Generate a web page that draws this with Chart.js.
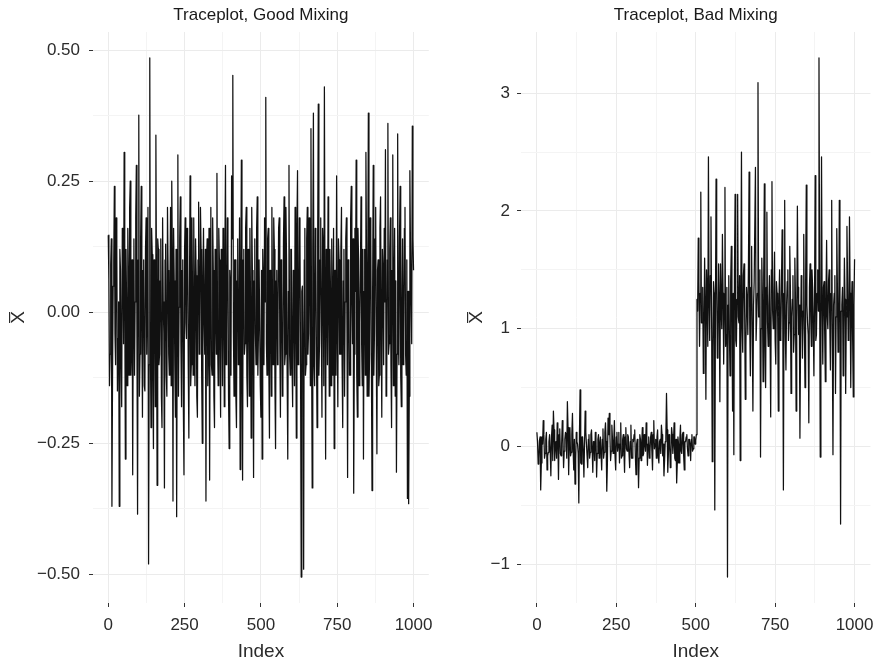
<!DOCTYPE html>
<html>
<head>
<meta charset="utf-8">
<script src="https://cdn.jsdelivr.net/npm/chart.js@4/dist/chart.umd.min.js"></script>
<style>
  body { margin: 0; background: #fff; }
  .panel { position: absolute; top: 0; }
</style>
</head>
<body>
<canvas id="good" class="panel" width="441" height="663" style="left:0"></canvas>
<canvas id="bad" class="panel" width="441" height="663" style="left:441px"></canvas>
<script>
// sample index, every 4th draw of the chain
const iterIndex = [
  0, 4, 8, 12, 16, 20, 24, 28, 32, 36, 40, 44, 48, 52, 56, 60, 64, 68, 72, 76,
  80, 84, 88, 92, 96, 100, 104, 108, 112, 116, 120, 124, 128, 132, 136, 140, 144, 148, 152, 156,
  160, 164, 168, 172, 176, 180, 184, 188, 192, 196, 200, 204, 208, 212, 216, 220, 224, 228, 232, 236,
  240, 244, 248, 252, 256, 260, 264, 268, 272, 276, 280, 284, 288, 292, 296, 300, 304, 308, 312, 316,
  320, 324, 328, 332, 336, 340, 344, 348, 352, 356, 360, 364, 368, 372, 376, 380, 384, 388, 392, 396,
  400, 404, 408, 412, 416, 420, 424, 428, 432, 436, 440, 444, 448, 452, 456, 460, 464, 468, 472, 476,
  480, 484, 488, 492, 496, 500, 504, 508, 512, 516, 520, 524, 528, 532, 536, 540, 544, 548, 552, 556,
  560, 564, 568, 572, 576, 580, 584, 588, 592, 596, 600, 604, 608, 612, 616, 620, 624, 628, 632, 636,
  640, 644, 648, 652, 656, 660, 664, 668, 672, 676, 680, 684, 688, 692, 696, 700, 704, 708, 712, 716,
  720, 724, 728, 732, 736, 740, 744, 748, 752, 756, 760, 764, 768, 772, 776, 780, 784, 788, 792, 796,
  800, 804, 808, 812, 816, 820, 824, 828, 832, 836, 840, 844, 848, 852, 856, 860, 864, 868, 872, 876,
  880, 884, 888, 892, 896, 900, 904, 908, 912, 916, 920, 924, 928, 932, 936, 940, 944, 948, 952, 956,
  960, 964, 968, 972, 976, 980, 984, 988, 992, 996, 1000
];
// the draws in between
const iterIndexMid = [
  2, 6, 10, 14, 18, 22, 26, 30, 34, 38, 42, 46, 50, 54, 58, 62, 66, 70, 74, 78,
  82, 86, 90, 94, 98, 102, 106, 110, 114, 118, 122, 126, 130, 134, 138, 142, 146, 150, 154, 158,
  162, 166, 170, 174, 178, 182, 186, 190, 194, 198, 202, 206, 210, 214, 218, 222, 226, 230, 234, 238,
  242, 246, 250, 254, 258, 262, 266, 270, 274, 278, 282, 286, 290, 294, 298, 302, 306, 310, 314, 318,
  322, 326, 330, 334, 338, 342, 346, 350, 354, 358, 362, 366, 370, 374, 378, 382, 386, 390, 394, 398,
  402, 406, 410, 414, 418, 422, 426, 430, 434, 438, 442, 446, 450, 454, 458, 462, 466, 470, 474, 478,
  482, 486, 490, 494, 498, 502, 506, 510, 514, 518, 522, 526, 530, 534, 538, 542, 546, 550, 554, 558,
  562, 566, 570, 574, 578, 582, 586, 590, 594, 598, 602, 606, 610, 614, 618, 622, 626, 630, 634, 638,
  642, 646, 650, 654, 658, 662, 666, 670, 674, 678, 682, 686, 690, 694, 698, 702, 706, 710, 714, 718,
  722, 726, 730, 734, 738, 742, 746, 750, 754, 758, 762, 766, 770, 774, 778, 782, 786, 790, 794, 798,
  802, 806, 810, 814, 818, 822, 826, 830, 834, 838, 842, 846, 850, 854, 858, 862, 866, 870, 874, 878,
  882, 886, 890, 894, 898, 902, 906, 910, 914, 918, 922, 926, 930, 934, 938, 942, 946, 950, 954, 958,
  962, 966, 970, 974, 978, 982, 986, 990, 994, 998
];

// good mixing chain
const goodMixing = [
  0.147, -0.14, 0.09, -0.37, 0.05, 0.24, -0.10, 0.12, -0.05, -0.37,
  0.08, -0.18, 0.12, 0.305, -0.28, 0.02, 0.16, -0.12, 0.25, -0.06,
  -0.31, 0.14, 0.02, 0.28, -0.385, 0.376, -0.08, 0.24, -0.20, 0.10,
  -0.15, 0.18, 0.04, -0.48, 0.485, -0.22, 0.11, -0.26, 0.06, 0.338,
  -0.33, 0.12, -0.08, 0.14, -0.22, 0.02, -0.335, 0.13, -0.16, 0.08,
  -0.12, 0.20, 0.25, -0.36, 0.06, -0.20, -0.39, 0.30, 0.01, 0.22,
  -0.18, 0.10, -0.31, 0.18, -0.05, 0.15, -0.24, 0.26, -0.10, 0.04,
  0.18, -0.14, 0.07, -0.20, 0.21, -0.02, 0.12, -0.25, 0.16, -0.08,
  -0.36, 0.14, -0.06, -0.32, 0.20, -0.12, 0.08, -0.22, 0.02, 0.265,
  -0.14, 0.10, -0.20, 0.06, 0.16, -0.18, 0.28, -0.04, 0.12, -0.26,
  0.05, 0.26, 0.452, -0.16, 0.10, -0.22, 0.14, -0.08, -0.30, 0.29,
  -0.32, 0.12, -0.06, 0.20, -0.18, 0.04, 0.16, -0.24, 0.08, -0.315,
  0.14, -0.10, 0.22, -0.04, 0.10, -0.20, -0.28, 0.06, 0.18, 0.41,
  -0.12, 0.16, -0.24, 0.04, 0.20, -0.10, 0.12, -0.26, 0.08, -0.02,
  0.18, -0.20, 0.06, -0.14, 0.22, -0.08, 0.10, -0.28, 0.28, -0.12,
  0.12, -0.18, 0.04, 0.20, -0.24, 0.27, -0.06, 0.14, -0.505, 0.05,
  -0.49, 0.16, -0.10, 0.20, -0.04, 0.08, 0.35, -0.335, 0.38, -0.14,
  0.10, -0.22, 0.397, -0.06, 0.18, -0.20, 0.12, 0.43, -0.28, 0.06,
  0.22, -0.16, 0.04, 0.14, -0.12, -0.26, 0.08, 0.26, -0.18, 0.10,
  -0.08, 0.20, -0.22, 0.12, 0.02, 0.18, -0.315, 0.08, -0.12, 0.24,
  -0.06, -0.345, 0.16, 0.29, -0.20, 0.10, -0.02, 0.22, -0.14, -0.28,
  0.12, 0.305, -0.16, 0.38, -0.08, 0.14, -0.34, 0.28, -0.04, 0.20,
  -0.27, 0.10, -0.12, 0.22, -0.20, 0.08, 0.16, 0.31, -0.14, 0.36,
  -0.06, 0.18, -0.22, 0.30, 0.04, -0.16, -0.305, 0.34, -0.10, 0.24,
  -0.18, 0.14, -0.04, 0.20, -0.12, -0.355, -0.365, 0.27, 0.02, 0.355,
  0.08
];
const goodMixingMid = [
  0.06, -0.08, 0.14, -0.12, 0.10, -0.04, 0.18, -0.15, 0.02, 0.12,
  -0.10, 0.16, -0.06, 0.04, 0.12, -0.14, 0.08, 0.20, -0.12, 0.10,
  0.02, -0.12, 0.18, -0.06, 0.10, -0.16, 0.14, -0.02, 0.08, -0.14,
  0.12, -0.08, 0.20, -0.10, -0.06, 0.16, -0.12, 0.10, -0.18, 0.04,
  0.14, -0.10, 0.06, -0.16, 0.18, -0.04, 0.10, -0.12, 0.20, -0.08,
  0.04, -0.14, 0.10, 0.16, -0.10, 0.12, 0.02, -0.16, 0.14, -0.06,
  0.08, -0.18, 0.12, -0.02, 0.16, -0.10, 0.04, -0.14, 0.18, -0.12,
  0.02, 0.14, -0.16, 0.10, -0.08, 0.20, -0.12, 0.06, -0.02, 0.12,
  0.10, -0.14, 0.16, 0.04, -0.10, 0.18, -0.16, 0.12, -0.08, -0.04,
  0.16, -0.06, 0.12, -0.14, 0.02, 0.10, -0.10, 0.18, -0.16, 0.08,
  -0.12, 0.14, -0.04, 0.10, -0.16, 0.06, -0.10, 0.18, 0.04, -0.14,
  0.10, -0.08, 0.16, -0.12, 0.12, -0.16, 0.02, 0.20, -0.10, 0.06,
  -0.04, 0.16, -0.12, 0.10, -0.14, 0.08, 0.12, -0.10, 0.02, -0.06,
  0.14, -0.10, 0.08, -0.16, 0.02, 0.18, -0.14, 0.06, -0.10, 0.16,
  -0.06, 0.10, -0.16, 0.14, -0.10, 0.20, -0.12, 0.04, -0.08, 0.12,
  -0.10, 0.08, -0.14, 0.02, 0.16, -0.10, 0.18, -0.12, 0.04, -0.08,
  0.10, -0.12, 0.14, -0.08, 0.18, -0.14, -0.06, 0.12, -0.10, 0.16,
  -0.08, 0.14, -0.12, 0.10, -0.04, 0.16, -0.14, 0.02, 0.12, -0.10,
  0.04, 0.12, -0.14, 0.02, 0.16, 0.08, -0.12, -0.02, 0.14, -0.08,
  0.12, -0.10, 0.06, -0.16, 0.14, -0.04, 0.10, -0.12, 0.18, 0.02,
  0.14, -0.08, 0.04, -0.12, 0.16, -0.14, 0.08, -0.06, 0.12, 0.04,
  -0.12, 0.10, 0.06, -0.16, 0.18, -0.10, 0.04, -0.12, 0.14, -0.06,
  0.08, -0.14, 0.16, -0.04, 0.12, -0.10, 0.02, -0.16, 0.10, -0.08,
  0.12, -0.10, 0.08, -0.14, 0.16, 0.06, -0.08, -0.04, 0.14, -0.12,
  0.02, -0.10, 0.16, -0.08, 0.10, 0.04, -0.16, 0.12, -0.06, 0.14
];

// bad mixing chain (jumps near 500)
const badMixing = [
  0.12, -0.15, 0.05, -0.37, 0.08, 0.22, -0.10, 0.06, -0.20, -0.05,
  0.10, -0.25, 0.18, 0.30, -0.12, 0.04, 0.20, -0.28, 0.15, -0.08,
  0.22, -0.18, 0.06, 0.10, 0.38, -0.24, 0.16, -0.05, 0.28, -0.20,
  -0.32, 0.12, 0.02, -0.48, 0.48, -0.15, 0.08, -0.26, 0.30, 0.02,
  -0.18, 0.10, -0.05, 0.14, -0.22, 0.04, 0.12, -0.26, 0.06, -0.10,
  0.08, -0.20, 0.15, -0.05, 0.20, -0.38, 0.24, 0.28, -0.12, 0.18,
  -0.06, 0.22, -0.20, 0.12, 0.02, -0.14, 0.20, -0.08, 0.10, -0.22,
  0.16, -0.04, 0.08, -0.18, 0.18, -0.10, 0.04, 0.14, -0.24, 0.06,
  -0.35, 0.10, -0.12, 0.16, -0.06, 0.02, 0.20, -0.16, 0.08, -0.04,
  0.12, -0.20, 0.22, 0.02, -0.10, 0.14, -0.14, 0.06, 0.18, -0.08,
  -0.25, 0.04, 0.45, -0.22, 0.10, -0.18, 0.16, -0.06, 0.20, -0.12,
  -0.31, 0.08, -0.14, 0.18, -0.06, 0.12, -0.20, 0.04, 0.10, -0.08,
  0.06, -0.12, 0.10, -0.02, 0.08, 0.05, 1.25, 1.77, 0.85, 2.16,
  1.05, 0.62, 1.60, 0.40, 1.30, 2.46, 0.90, 1.95, -0.13, 1.40,
  -0.54, 2.27, 0.75, 1.55, 0.38, 1.20, 1.80, 0.70, 2.20, 0.95,
  -1.11, 1.45, 0.60, 1.70, 0.30, -0.07, 2.14, 0.85, 2.14, 1.05,
  -0.12, 2.50, 0.80, 1.55, 0.40, 1.35, 0.95, 2.33, 0.60, 1.70,
  0.30, 1.40, 2.37, 0.90, 3.09, 1.10, -0.09, 1.60, 0.55, 2.23,
  0.50, 1.99, 0.85, 1.45, 0.25, 2.25, 1.00, 1.65, 0.70, 1.30,
  0.30, 1.50, 0.95, 1.84, -0.37, 2.09, 0.65, 1.40, 0.90, 1.70,
  0.45, 1.25, 0.80, 1.60, 0.30, 2.04, 0.95, 0.07, 1.45, 0.75,
  1.80, 0.50, 2.22, 1.05, 0.20, 1.55, 0.85, 1.35, 0.60, 2.30,
  0.95, 1.50, 3.30, -0.09, 2.46, 0.70, 1.40, 0.55, 1.75, 1.00,
  1.50, 0.65, 2.09, -0.07, 1.30, 0.45, 1.85, 0.80, 2.09, -0.66,
  1.20, 0.60, 1.60, 0.45, 1.87, 0.90, 1.95, 0.50, 1.40, 0.42,
  1.59
];
const badMixingMid = [
  0.04, -0.10, 0.08, -0.14, 0.02, 0.10, -0.06, 0.12, -0.08, 0.04,
  -0.04, 0.08, -0.12, 0.14, 0.02, -0.10, 0.06, 0.10, -0.06, 0.02,
  0.08, -0.04, 0.12, -0.10, 0.16, 0.02, -0.08, 0.10, -0.02, 0.06,
  -0.12, 0.04, -0.06, 0.10, -0.14, 0.08, -0.04, 0.02, 0.12, -0.08,
  0.06, -0.10, 0.10, -0.02, 0.04, -0.12, 0.08, -0.06, 0.10, 0.02,
  -0.06, 0.06, -0.10, 0.12, 0.04, -0.14, 0.10, 0.08, -0.04, 0.06,
  0.04, -0.08, 0.08, -0.04, 0.12, 0.02, -0.10, 0.06, -0.04, 0.08,
  -0.02, 0.10, -0.06, 0.04, -0.10, 0.06, 0.10, -0.08, 0.02, -0.04,
  -0.10, 0.06, 0.02, -0.08, 0.10, -0.04, 0.06, 0.02, -0.10, 0.08,
  -0.04, 0.10, -0.02, 0.06, 0.08, -0.08, 0.04, -0.06, 0.10, 0.02,
  -0.12, 0.08, 0.14, -0.06, 0.02, -0.08, 0.10, 0.04, -0.10, 0.06,
  -0.14, 0.02, 0.06, -0.04, 0.10, -0.08, 0.04, 0.08, -0.02, 0.06,
  0.02, 0.06, -0.04, 0.08, 0.02, 0.10, 1.15, 1.40, 1.30, 1.05,
  1.35, 0.95, 1.20, 1.50, 0.85, 1.25, 1.45, 1.10, 0.80, 1.30,
  1.10, 1.40, 0.90, 1.25, 1.55, 1.00, 1.30, 1.15, 0.85, 1.35,
  1.20, 0.95, 1.40, 1.05, 1.30, 1.50, 0.90, 1.25, 1.10, 1.45,
  1.30, 1.00, 1.45, 1.15, 0.85, 1.25, 1.55, 1.05, 1.35, 0.95,
  1.20, 1.40, 0.90, 1.30, 1.10, 1.50, 1.00, 1.25, 1.45, 0.85,
  1.35, 1.05, 1.20, 0.95, 1.50, 1.15, 1.30, 0.90, 1.40, 1.10,
  1.25, 0.90, 1.40, 1.10, 1.30, 0.95, 1.20, 1.50, 1.05, 1.35,
  1.10, 1.45, 0.95, 1.25, 1.05, 1.35, 1.20, 0.90, 1.30, 1.15,
  1.00, 1.40, 1.20, 0.95, 1.35, 1.10, 1.50, 1.05, 1.25, 0.90,
  1.30, 1.15, 1.45, 1.00, 1.20, 1.35, 0.95, 1.25, 1.10, 1.40,
  1.05, 1.30, 0.90, 1.20, 1.45, 1.10, 1.35, 0.95, 1.25, 1.15,
  1.35, 1.00, 1.25, 1.10, 1.40, 0.95, 1.30, 1.15, 0.90, 1.20
];

// axis ticks
const xTicks = [0, 250, 500, 750, 1000];
const xMinor = [125, 375, 625, 875];
const goodYTicks = [-0.5, -0.25, 0, 0.25, 0.5];
const goodYLabels = ['\u22120.50', '\u22120.25', '0.00', '0.25', '0.50'];
const goodYMinor = [-0.375, -0.125, 0.125, 0.375];
const badYTicks = [-1, 0, 1, 2, 3];
const badYLabels = ['\u22121', '0', '1', '2', '3'];
const badYMinor = [-0.5, 0.5, 1.5, 2.5];

const FONT = "'Liberation Sans', Arial, Helvetica, sans-serif";
const TEXT = '#2b2b2b';

function makeAxis(major, minor, labels, extra) {
	return Object.assign({
		type: 'linear',
		border: { display: false },
		grid: {
			color: (c) => (c.tick && minor.includes(c.tick.value) ? '#f4f4f4' : '#ebebeb'),
			tickColor: (c) => (c.tick && minor.includes(c.tick.value) ? 'rgba(0,0,0,0)' : '#333'),
			tickLength: 4,
			lineWidth: 1
		},
		afterBuildTicks: (scale) => {
			scale.ticks = major.concat(minor).sort((a, b) => a - b).map((v) => ({ value: v }));
		},
		ticks: {
			autoSkip: false,
			maxRotation: 0,
			color: TEXT,
			font: { family: FONT, size: 17 },
			callback: (v) => {
				const i = major.indexOf(v);
				return i < 0 ? '' : labels[i];
			}
		}
	}, extra);
}

// join the two sets of draws back into one chain, ordered by index
function chainPoints(values, midValues) {
	const pts = iterIndex.map((x, i) => ({ x: x, y: values[i] }))
		.concat(iterIndexMid.map((x, i) => ({ x: x, y: midValues[i] })));
	return pts.sort((a, b) => a.x - b.x);
}

function makeChart(id, title, pts, yMin, yMax, yTicks, yLabels, yMinor, yAxisWidth, yLabelPad, yTitlePad, padRight) {
	const xAxis = makeAxis(xTicks, xMinor, xTicks.map(String), {
		min: -50,
		max: 1050,
		afterFit: (s) => { s.height = 60; },
		title: { display: true, text: 'Index', color: TEXT, font: { family: FONT, size: 19 }, padding: { top: 0, bottom: 0 } }
	});
	xAxis.ticks.padding = 8;
	const yAxis = makeAxis(yTicks, yMinor, yLabels, {
		min: yMin,
		max: yMax,
		afterFit: (s) => { s.width = yAxisWidth; },
		title: { display: true, text: 'X\u0305', color: TEXT, font: { family: FONT, size: 19 }, padding: { top: yTitlePad, bottom: 0 } }
	});
	yAxis.ticks.padding = yLabelPad;

	return new Chart(document.getElementById(id), {
		type: 'line',
		data: {
			datasets: [{
				data: pts,
				borderColor: '#111111',
				borderWidth: 1.25,
				borderJoinStyle: 'round',
				pointRadius: 0,
				fill: false,
				tension: 0
			}]
		},
		options: {
			responsive: false,
			devicePixelRatio: 1,
			animation: false,
			layout: { padding: { left: 0, top: 0, right: padRight, bottom: 0 } },
			plugins: {
				legend: { display: false },
				tooltip: { enabled: false },
				title: {
					display: true,
					text: title,
					fullSize: false,
					color: '#1a1a1a',
					font: { family: FONT, size: 17, weight: 'normal' },
					padding: { top: 5, bottom: 6.6 }
				}
			},
			scales: { x: xAxis, y: yAxis }
		}
	});
}

makeChart('good', 'Traceplot, Good Mixing', chainPoints(goodMixing, goodMixingMid), -0.5545, 0.5345,
	goodYTicks, goodYLabels, goodYMinor, 93, 9, 7, 9);
makeChart('bad', 'Traceplot, Bad Mixing', chainPoints(badMixing, badMixingMid), -1.33, 3.52,
	badYTicks, badYLabels, badYMinor, 80, 7, 24.6, 8);
</script>
</body>
</html>
